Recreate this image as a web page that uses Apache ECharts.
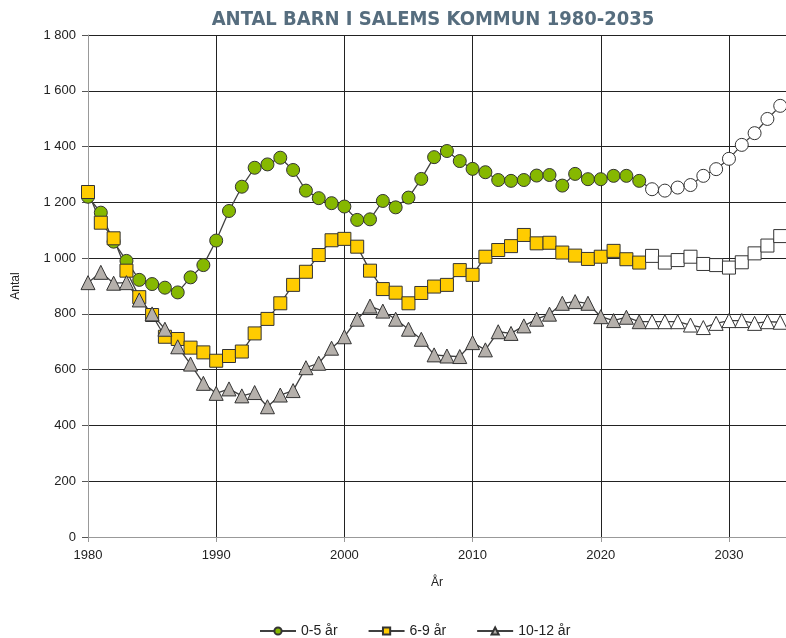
<!DOCTYPE html>
<html>
<head>
<meta charset="utf-8">
<script src="https://cdn.jsdelivr.net/npm/echarts@6/dist/echarts.min.js"></script>
<style>
    html, body { margin: 0; padding: 0; background: #fff; }
    #chart { width: 786px; height: 638px; }
</style>
</head>
<body>
<div id="chart"></div>
<script>
// år 1980-2034, prognos från 2024
const years = []
for (let y = 1980; y <= 2034; y++) years.push(y)
const firstForecastYear = 2024

const barn0_5 = [
    1220, 1163, 1059, 990, 922, 907, 894, 877, 931, 975,
    1063, 1169, 1256, 1324, 1336, 1360, 1316, 1242, 1215, 1197,
    1185, 1137, 1139, 1205, 1182, 1217, 1284, 1362, 1384, 1348,
    1320, 1308, 1280, 1277, 1280, 1296, 1298, 1260, 1302, 1283,
    1283, 1295, 1295, 1277, 1247, 1242, 1253, 1262, 1295, 1319,
    1356, 1406, 1448, 1499, 1546
]
const barn6_9 = [
    1237, 1127, 1071, 955, 860, 796, 718, 710, 679, 662,
    632, 649, 665, 730, 782, 838, 904, 951, 1011, 1064,
    1069, 1041, 955, 889, 876, 838, 875, 898, 904, 957,
    940, 1005, 1029, 1043, 1083, 1053, 1055, 1020, 1009, 997,
    1005, 1026, 996, 984, 1008, 984, 993, 1005, 979, 975,
    966, 985, 1017, 1045, 1079
]
const barn10_12 = [
    912, 949, 910, 912, 850, 800, 745, 682, 620, 551,
    515, 531, 506, 518, 467, 509, 525, 607, 623, 677,
    718, 781, 828, 810, 781, 745, 709, 653, 649, 647,
    697, 671, 736, 730, 757, 781, 799, 838, 844, 838,
    790, 776, 788, 772, 772, 772, 772, 760, 751, 766,
    776, 776, 766, 772, 770
]

function toData (values) {
    return values.map((v, i) => {
        const item = { value: [years[i], v] }
        if (years[i] >= firstForecastYear) {
            item.itemStyle = { color: '#ffffff', borderColor: '#333' }
        }
        return item
    })
}

function makeSeries (name, values, symbol, size, fill) {
    return {
        name: name,
        type: 'line',
        data: toData(values),
        symbol: symbol,
        symbolSize: size,
        showAllSymbol: true,
        lineStyle: { color: '#404040', width: 1.3 },
        itemStyle: { color: fill, borderColor: '#333', borderWidth: 1 },
        emphasis: { disabled: true }
    }
}

const chart = echarts.init(document.getElementById('chart'))
chart.setOption({
    animation: false,
    title: {
        text: 'ANTAL BARN I SALEMS KOMMUN 1980-2035',
        left: 428,
        textAlign: 'center',
        top: 5,
        textStyle: {
            fontFamily: 'DejaVu Sans Condensed, Liberation Sans, sans-serif',
            fontSize: 20,
            fontWeight: 'bold',
            color: '#566d7e'
        }
    },
    grid: {
        left: 88,
        right: 0,
        top: 35,
        bottom: 101,
        outerBoundsMode: 'none'
    },
    legend: {
        bottom: -5,
        left: 254,
        itemWidth: 36,
        itemHeight: 9,
        itemGap: 30,
        textStyle: { fontFamily: 'Liberation Sans, sans-serif', fontSize: 14, color: '#222' },
        data: ['0-5 år', '6-9 år', '10-12 år']
    },
    xAxis: {
        type: 'value',
        min: 1980,
        max: 2034.45,
        interval: 10,
        name: 'År',
        nameLocation: 'middle',
        nameGap: 40,
        nameTextStyle: { fontFamily: 'Liberation Sans, sans-serif', fontSize: 12, color: '#222' },
        axisLine: { onZero: false, lineStyle: { color: '#999' } },
        axisTick: { show: true, lineStyle: { color: '#999' } },
        axisLabel: {
            fontFamily: 'Liberation Sans, sans-serif',
            fontSize: 13,
            color: '#222',
            margin: 12,
            formatter: v => (v % 10 === 0 ? String(v) : '')
        },
        splitLine: { show: true, lineStyle: { color: '#222', width: 1 } }
    },
    yAxis: {
        type: 'value',
        min: 0,
        max: 1800,
        interval: 200,
        name: 'Antal',
        nameLocation: 'middle',
        nameRotate: 90,
        nameGap: 66,
        nameTextStyle: { fontFamily: 'Liberation Sans, sans-serif', fontSize: 12, color: '#222' },
        axisLine: { show: true, lineStyle: { color: '#999' } },
        axisTick: { show: true, length: 6, lineStyle: { color: '#555' } },
        axisLabel: {
            fontFamily: 'Liberation Sans, sans-serif',
            fontSize: 13,
            color: '#222',
            margin: 12,
            formatter: v => String(v).replace(/\B(?=(\d{3})+(?!\d))/g, ' ')
        },
        splitLine: { show: true, lineStyle: { color: '#222', width: 1 } }
    },
    series: [
        makeSeries('0-5 år', barn0_5, 'circle', 13, '#86b800'),
        makeSeries('6-9 år', barn6_9, 'rect', 13, '#ffcc00'),
        makeSeries('10-12 år', barn10_12, 'triangle', 14, '#b5b0ab')
    ]
})
</script>
</body>
</html>
